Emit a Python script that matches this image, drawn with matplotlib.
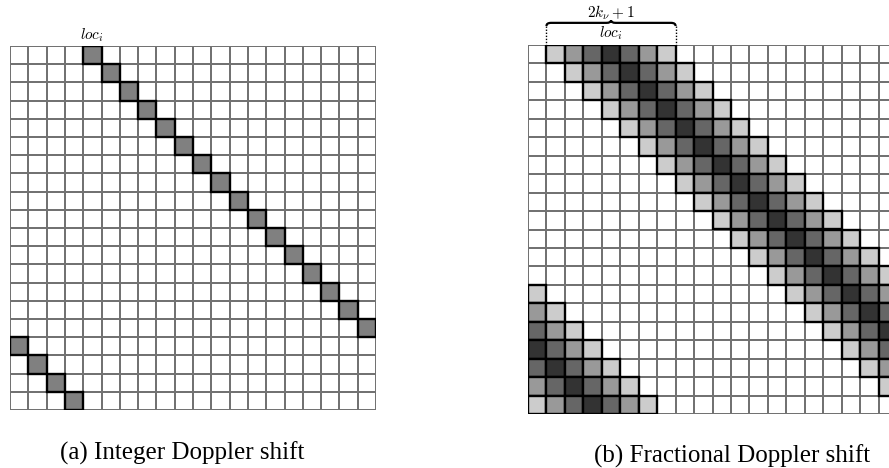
import matplotlib
matplotlib.use('Agg')
import matplotlib.pyplot as plt
from matplotlib.patches import Rectangle
from matplotlib.path import Path
from matplotlib.patches import PathPatch
import numpy as np

plt.rcParams['mathtext.fontset'] = 'cm'

# grid size and diagonal placement
n_cells = 20
rows = list(range(20))
diag_cols = [4, 5, 6, 7, 8, 9, 10, 11, 12, 13, 14, 15, 16, 17, 18, 19, 0, 1, 2, 3]

# fractional Doppler: spread around the diagonal (2k+1 = 7 cells)
band_offsets = [-3, -2, -1, 0, 1, 2, 3]
band_colors = ['#cccccc', '#999999', '#666666', '#333333', '#666666', '#999999', '#cccccc']
int_color = '#808080'

captions = ['(a) Integer Doppler shift', '(b) Fractional Doppler shift']

W, H = 889, 468
fig = plt.figure(figsize=(W / 100, H / 100), dpi=100)


def add_grid_axes(x0, y0, x1, y1):
    ax = fig.add_axes([x0 / W, 1 - y1 / H, (x1 - x0) / W, (y1 - y0) / H])
    ax.pcolormesh(np.arange(n_cells + 1), np.arange(n_cells + 1),
                  np.zeros((n_cells, n_cells)), cmap='Greys', vmin=0, vmax=1,
                  edgecolors='#727272', linewidth=1.3)
    ax.set_xlim(0, n_cells)
    ax.set_ylim(n_cells, 0)
    ax.axis('off')
    return ax


def cell(ax, c, r, color):
    ax.add_patch(Rectangle((c, r), 1, 1, facecolor=color, edgecolor='black',
                           linewidth=1.7, zorder=3))


# (a) integer shift
ax1 = add_grid_axes(10, 46, 376, 410)
for r, c in zip(rows, diag_cols):
    cell(ax1, c, r, int_color)
ax1.text(diag_cols[0] + 0.5, -0.62, r'$loc_i$', ha='center', va='center', fontsize=11)

# (b) fractional shift
ax2 = add_grid_axes(528, 45, 897, 414)
for r, c in zip(rows, diag_cols):
    for off, col in zip(band_offsets, band_colors):
        cell(ax2, (c + off) % n_cells, r, col)

# brace over the first row's band
xl = diag_cols[0] + band_offsets[0]
xr = diag_cols[0] + band_offsets[-1] + 1
xm = (xl + xr) / 2
yb = -1.2
verts = [(xl, yb + 0.17), (xl, yb), (xl + 0.25, yb),
         (xm - 0.25, yb), (xm, yb), (xm, yb - 0.14),
         (xm, yb), (xm + 0.25, yb),
         (xr - 0.25, yb), (xr, yb), (xr, yb + 0.17)]
codes = [Path.MOVETO, Path.CURVE3, Path.CURVE3,
         Path.LINETO, Path.CURVE3, Path.CURVE3,
         Path.CURVE3, Path.CURVE3,
         Path.LINETO, Path.CURVE3, Path.CURVE3]
ax2.add_patch(PathPatch(Path(verts, codes), facecolor='none', edgecolor='black',
                        linewidth=1.6, clip_on=False))
for x in (xl, xr):
    ax2.plot([x, x], [yb + 0.17, 0], color='black', linestyle=(0, (1, 1.2)),
             linewidth=1.0, clip_on=False)
ax2.text(xm, -1.74, r'$2k_{\nu}+1$', ha='center', va='center', fontsize=11)
ax2.text(xm, -0.62, r'$loc_i$', ha='center', va='center', fontsize=11)

fig.text(182 / W, 1 - 453 / H, captions[0], ha='center', va='center',
         fontsize=18, family='Liberation Serif')
fig.text(732 / W, 1 - 456 / H, captions[1], ha='center', va='center',
         fontsize=18, family='Liberation Serif')

fig.savefig('out.png', dpi=100, facecolor='white')
